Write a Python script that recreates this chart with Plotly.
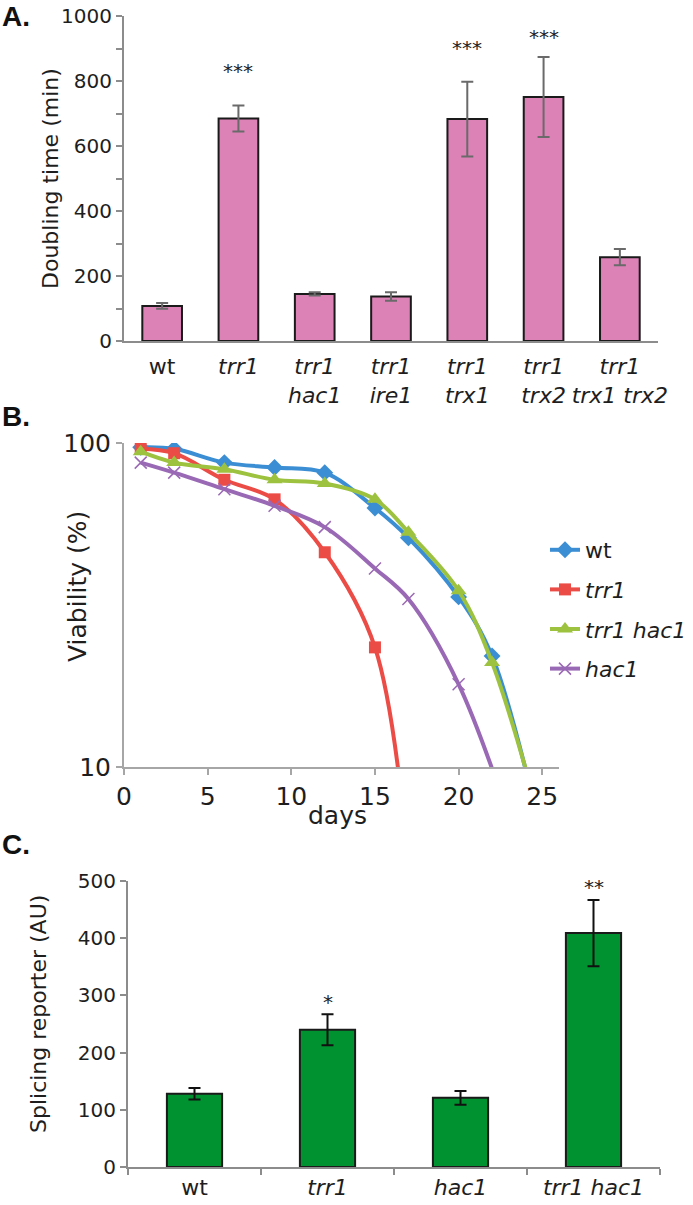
import plotly.graph_objects as go

# ---------------- Panel A data ----------------
a_labels = ["wt", "<i>trr1</i>", "<i>trr1</i><br><i>hac1</i>", "<i>trr1</i><br><i>ire1</i>",
            "<i>trr1</i><br><i>trx1</i>", "<i>trr1</i><br><i>trx2</i>", "<i>trr1</i><br><i>trx1 trx2</i>"]
a_values = [108, 685, 145, 137, 683, 751, 258]
a_errors = [9, 40, 5, 13, 115, 123, 25]
a_sig = ["", "***", "", "", "***", "***", ""]

# ---------------- Panel B data ----------------
b_days_wt = [1, 3, 6, 9, 12, 15, 17, 20, 22, 25]
b_wt = [97, 96, 87, 84, 81, 63, 51, 33.5, 22, 6]
b_days_trr1 = [1, 3, 6, 9, 12, 15, 17]
b_trr1 = [96, 93, 77, 67, 46, 23.4, 5]
b_days_trr1hac1 = [1, 3, 6, 9, 12, 15, 17, 20, 22, 25]
b_trr1hac1 = [94, 87, 83, 77, 75, 67, 53, 35, 21, 6.5]
b_days_hac1 = [1, 3, 6, 9, 12, 15, 17, 20, 23]
b_hac1 = [87, 81, 72, 64, 55, 41, 33, 18, 7]

# ---------------- Panel C data ----------------
c_labels = ["wt", "<i>trr1</i>", "<i>hac1</i>", "<i>trr1 hac1</i>"]
c_values = [128, 240, 121, 409]
c_errors = [10, 27, 12, 58]
c_sig = ["", "*", "", "**"]

FONT = "DejaVu Sans, Verdana, sans-serif"
W, H = 693, 1205
AX = "#8c8c8c"
TXT = "#1e1e1e"


def px_x(p):
    return p / W


def px_y(p):
    return 1 - p / H


fig = go.Figure()

# Panel A bars
fig.add_trace(go.Bar(
    x=a_labels, y=a_values, width=0.52,
    marker=dict(color="#DC82B7", line=dict(color="#1a1a1a", width=2)),
    error_y=dict(type="data", array=a_errors, color="#6a6a6a", thickness=2, width=6),
    xaxis="x", yaxis="y", showlegend=False,
))

# Panel B lines
series = [
    ("wt", b_days_wt, b_wt, "#3B8ED3", dict(symbol="diamond", size=13)),
    ("<i>trr1</i>", b_days_trr1, b_trr1, "#EC4C46", dict(symbol="square", size=12)),
    ("<i>trr1 hac1</i>", b_days_trr1hac1, b_trr1hac1, "#9DC23F", dict(symbol="triangle-up", size=14)),
    ("<i>hac1</i>", b_days_hac1, b_hac1, "#9A69B5", dict(symbol="x-thin", size=12)),
]
for i, (name, xs, ys, col, mk) in enumerate(series):
    m = dict(color=col, **mk)
    if mk["symbol"] == "x-thin":
        m["line"] = dict(color=col, width=1.5)
    fig.add_trace(go.Scatter(
        x=xs, y=ys, name=name, mode="lines+markers",
        line=dict(color=col, width=4, shape="spline", smoothing=1),
        marker=m, xaxis="x2", yaxis="y2", legendgroup=f"g{i}",
    ))

# Panel C bars
fig.add_trace(go.Bar(
    x=c_labels, y=c_values, width=0.415,
    marker=dict(color="#009130", line=dict(color="#1a1a1a", width=2)),
    error_y=dict(type="data", array=c_errors, color="#111111", thickness=2, width=6),
    xaxis="x3", yaxis="y3", showlegend=False,
))

annotations = []
# significance stars
for lab, v, e, s in zip(a_labels, a_values, a_errors, a_sig):
    if s:
        annotations.append(dict(x=lab, y=min(v + e + 105, 935), text=s, xref="x", yref="y",
                                showarrow=False, font=dict(size=20, color=TXT),
                                xanchor="center", yanchor="middle"))
for lab, v, e, s in zip(c_labels, c_values, c_errors, c_sig):
    if s:
        annotations.append(dict(x=lab, y=v + e + 27, text=s, xref="x3", yref="y3",
                                showarrow=False, font=dict(size=20, color=TXT),
                                xanchor="center", yanchor="middle", yshift=-3))

# panel letters
for letter, yc in [("A.", 17), ("B.", 416), ("C.", 844)]:
    annotations.append(dict(x=0, y=px_y(yc), xref="paper", yref="paper", text=f"<b>{letter}</b>",
                            showarrow=False, xanchor="left", yanchor="middle",
                            font=dict(size=28, color="#111", family="Liberation Sans, Arial, sans-serif")))

# axis titles
def vtitle(text, xc, yc, size):
    return dict(x=px_x(xc), y=px_y(yc), xref="paper", yref="paper", text=text, textangle=-90,
                showarrow=False, xanchor="center", yanchor="middle", font=dict(size=size, color=TXT))


annotations += [
    vtitle("Doubling time (min)", 50, 178, 22),
    vtitle("Viability (%)", 77, 587, 25),
    vtitle("Splicing reporter (AU)", 38, 1014, 22),
    dict(x=px_x(337), y=px_y(815), xref="paper", yref="paper", text="days", xanchor="center",
         yanchor="middle", showarrow=False, font=dict(size=25, color=TXT)),
]

fontA = dict(family=FONT, size=20, color=TXT)
catA = dict(family=FONT, size=22, color=TXT)
fontB = dict(family=FONT, size=25, color=TXT)
fontC = dict(family=FONT, size=20, color=TXT)
catC = dict(family=FONT, size=22, color=TXT)

fig.update_layout(
    width=W, height=H, autosize=False,
    margin=dict(l=0, r=0, t=0, b=0, pad=0),
    paper_bgcolor="white", plot_bgcolor="white",
    font=dict(family=FONT, color=TXT),
    annotations=annotations,
    showlegend=True,
    legend=dict(x=px_x(545), y=px_y(529), xanchor="left", yanchor="top",
                font=dict(family=FONT, size=22, color=TXT), tracegroupgap=8, bgcolor="rgba(0,0,0,0)"),
    xaxis=dict(domain=[px_x(124), px_x(658)], anchor="y", type="category", automargin=False,
               showline=True, linecolor=AX, linewidth=2, ticks="", tickfont=catA, showgrid=False,
               ticklabelstandoff=5),
    yaxis=dict(domain=[px_y(341), px_y(16)], anchor="x", range=[0, 1000], dtick=200, automargin=False,
               showline=True, linecolor=AX, linewidth=2, ticks="outside", ticklen=6, tickcolor=AX, tickwidth=2,
               minor=dict(dtick=100, ticks="outside", ticklen=6, tickcolor=AX, tickwidth=2),
               showgrid=False, zeroline=False, tickfont=fontA),
    xaxis2=dict(domain=[px_x(124), px_x(559)], anchor="y2", range=[0, 26], dtick=5, tick0=0, automargin=False,
                showline=True, linecolor="#a6a6a6", linewidth=2, ticks="outside", ticklen=6,
                tickcolor="#a6a6a6", tickwidth=2, showgrid=False, zeroline=False, tickfont=fontB),
    yaxis2=dict(domain=[px_y(767), px_y(443)], anchor="x2", type="log", range=[1, 2], automargin=False,
                tickvals=[10, 100], ticktext=["10", "100"],
                showline=True, linecolor="#a6a6a6", linewidth=2, ticks="outside", ticklen=6,
                tickcolor="#a6a6a6", tickwidth=2, showgrid=False, zeroline=False, tickfont=fontB),
    xaxis3=dict(domain=[px_x(128), px_x(660)], anchor="y3", type="category", automargin=False,
                showline=True, linecolor=AX, linewidth=2, ticks="outside", tickson="boundaries",
                ticklen=6, tickcolor=AX, tickwidth=2, tickfont=catC, showgrid=False),
    yaxis3=dict(domain=[px_y(1167), px_y(881)], anchor="x3", range=[0, 500], dtick=100, automargin=False,
                showline=True, linecolor=AX, linewidth=2, ticks="outside", ticklen=6, tickcolor=AX, tickwidth=2,
                showgrid=False, zeroline=False, tickfont=fontC),
)

fig.write_html("out.html", config={"displayModeBar": False},
               post_script="document.body.style.margin='0';document.body.style.overflow='hidden';")
